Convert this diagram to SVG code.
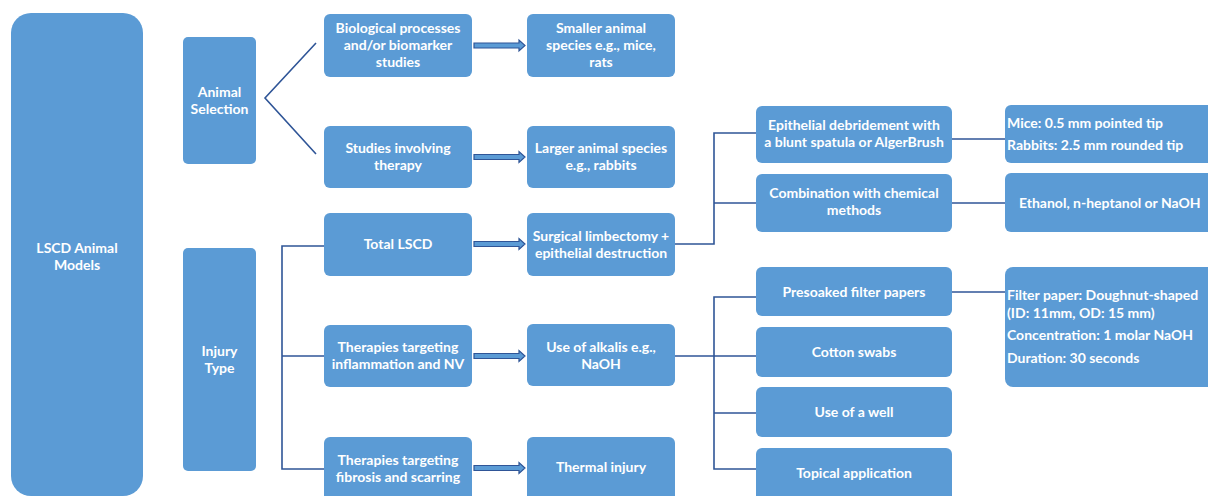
<svg xmlns="http://www.w3.org/2000/svg" width="1208" height="496" viewBox="0 0 1208 496">
<style>
.box{fill:#5B9BD5;}
.t{font-family:Lato,"Liberation Sans",sans-serif;font-weight:bold;font-size:14px;fill:#FFFFFF;text-anchor:middle;}
.tl{font-family:Lato,"Liberation Sans",sans-serif;font-weight:bold;font-size:14px;fill:#FFFFFF;text-anchor:start;}
.ln{fill:none;stroke:#2F5597;stroke-width:1.6;}
.ar{fill:#5B9BD5;stroke:#2F5597;stroke-width:1.2;stroke-linejoin:miter;}
</style>
<defs>
<path id="arrow" d="M0,-2.5 H45 V-5.5 L51,0 L45,5.5 V2.5 H0 Z"/>
</defs>
<rect width="1208" height="496" fill="#FFFFFF"/>
<g id="connectors">
<polyline class="ln" points="316,43 265,98 316,154"/>
<polyline class="ln" points="324,246 282,246 282,469 324,469"/>
<line class="ln" x1="282" y1="356" x2="324" y2="356"/>
<use href="#arrow" class="ar" x="474" y="45.5"/>
<use href="#arrow" class="ar" x="474" y="157"/>
<use href="#arrow" class="ar" x="474" y="244"/>
<use href="#arrow" class="ar" x="474" y="356"/>
<use href="#arrow" class="ar" x="474" y="468"/>
<polyline class="ln" points="675,244 714,244 714,133 756,133"/>
<line class="ln" x1="714" y1="203" x2="756" y2="203"/>
<line class="ln" x1="952" y1="139" x2="1005" y2="139"/>
<line class="ln" x1="952" y1="203" x2="1005" y2="203"/>
<line class="ln" x1="675" y1="356" x2="714" y2="356"/>
<polyline class="ln" points="756,297 714,297 714,469 756,469"/>
<line class="ln" x1="714" y1="356" x2="756" y2="356"/>
<line class="ln" x1="714" y1="413" x2="756" y2="413"/>
<line class="ln" x1="952" y1="292" x2="1005" y2="292"/>
</g>
<g id="lscd"><rect class="box" x="11" y="13" width="132" height="483" rx="20"/><text class="t" x="77" y="253">LSCD Animal</text><text class="t" x="77" y="270">Models</text></g>
<g id="animal-selection"><rect class="box" x="183" y="37" width="73" height="127" rx="5"/><text class="t" x="219.5" y="97">Animal</text><text class="t" x="219.5" y="114">Selection</text></g>
<g id="injury-type"><rect class="box" x="183" y="248" width="73" height="223" rx="5"/><text class="t" x="219.5" y="356">Injury</text><text class="t" x="219.5" y="373">Type</text></g>
<g id="bio"><rect class="box" x="324" y="14" width="148" height="63" rx="6"/><text class="t" x="398" y="33">Biological processes</text><text class="t" x="398" y="50">and/or biomarker</text><text class="t" x="398" y="67">studies</text></g>
<g id="therapy-studies"><rect class="box" x="324" y="126" width="148" height="62" rx="6"/><text class="t" x="398" y="153">Studies involving</text><text class="t" x="398" y="170">therapy</text></g>
<g id="total-lscd"><rect class="box" x="324" y="213" width="148" height="63" rx="6"/><text class="t" x="398" y="249">Total LSCD</text></g>
<g id="inflammation"><rect class="box" x="324" y="325" width="148" height="62" rx="6"/><text class="t" x="398" y="352">Therapies targeting</text><text class="t" x="398" y="369">inflammation and NV</text></g>
<g id="fibrosis"><rect class="box" x="324" y="437" width="148" height="66" rx="6"/><text class="t" x="398" y="465">Therapies targeting</text><text class="t" x="398" y="482">fibrosis and scarring</text></g>
<g id="smaller"><rect class="box" x="527" y="14" width="148" height="63" rx="6"/><text class="t" x="601" y="33">Smaller animal</text><text class="t" x="601" y="50">species e.g., mice,</text><text class="t" x="601" y="67">rats</text></g>
<g id="larger"><rect class="box" x="527" y="126" width="148" height="62" rx="6"/><text class="t" x="601" y="153">Larger animal species</text><text class="t" x="601" y="170">e.g., rabbits</text></g>
<g id="surgical"><rect class="box" x="527" y="213" width="148" height="63" rx="6"/><text class="t" x="601" y="241">Surgical limbectomy +</text><text class="t" x="601" y="258">epithelial destruction</text></g>
<g id="alkalis"><rect class="box" x="527" y="324" width="148" height="62" rx="6"/><text class="t" x="601" y="352">Use of alkalis e.g.,</text><text class="t" x="601" y="369">NaOH</text></g>
<g id="thermal"><rect class="box" x="527" y="437" width="148" height="66" rx="6"/><text class="t" x="601" y="472">Thermal injury</text></g>
<g id="debridement"><rect class="box" x="756" y="106" width="196" height="57" rx="6"/><text class="t" x="854" y="130">Epithelial debridement with</text><text class="t" x="854" y="147">a blunt spatula or AlgerBrush</text></g>
<g id="combination"><rect class="box" x="756" y="174" width="196" height="58" rx="6"/><text class="t" x="854" y="198">Combination with chemical</text><text class="t" x="854" y="215">methods</text></g>
<g id="presoaked"><rect class="box" x="756" y="267" width="196" height="49" rx="6"/><text class="t" x="854" y="297">Presoaked filter papers</text></g>
<g id="cotton"><rect class="box" x="756" y="327" width="196" height="50" rx="6"/><text class="t" x="854" y="357">Cotton swabs</text></g>
<g id="well"><rect class="box" x="756" y="387" width="196" height="50" rx="6"/><text class="t" x="854" y="417">Use of a well</text></g>
<g id="topical"><rect class="box" x="756" y="448" width="196" height="55" rx="6"/><text class="t" x="854" y="478">Topical application</text></g>
<g id="tips"><rect class="box" x="1005" y="105" width="215" height="58" rx="6"/><text class="tl" x="1007" y="128">Mice: 0.5 mm pointed tip</text><text class="tl" x="1007" y="150">Rabbits: 2.5 mm rounded tip</text></g>
<g id="chemicals"><rect class="box" x="1005" y="173" width="215" height="59" rx="6"/><text class="tl" x="1019" y="208">Ethanol, n-heptanol or NaOH</text></g>
<g id="filter"><rect class="box" x="1005" y="267" width="215" height="120" rx="8"/><text class="tl" x="1007" y="300">Filter paper: Doughnut-shaped</text><text class="tl" x="1007" y="318">(ID: 11mm, OD: 15 mm)</text><text class="tl" x="1007" y="340">Concentration: 1 molar NaOH</text><text class="tl" x="1007" y="363">Duration: 30 seconds</text></g>
</svg>
